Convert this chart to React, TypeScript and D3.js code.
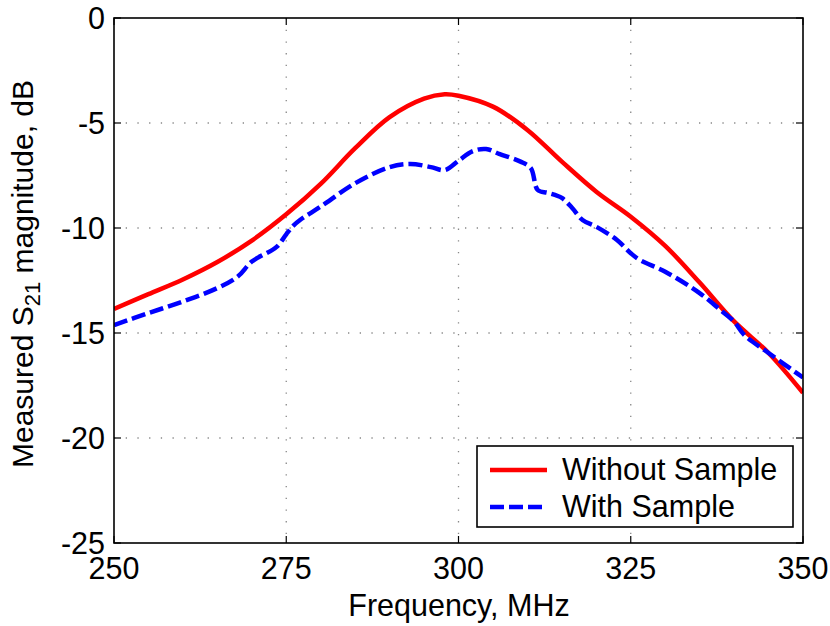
import React from 'react';
import * as d3 from 'd3';

const freqWithout = [250, 255, 260, 265, 270, 275, 280, 285, 290, 295, 298, 300, 305, 310, 315, 320, 325, 330, 335, 340, 345, 350];
const s21Without = [-13.85, -13.15, -12.45, -11.62, -10.6, -9.35, -7.9, -6.2, -4.72, -3.84, -3.63, -3.7, -4.22, -5.33, -6.84, -8.27, -9.46, -10.85, -12.6, -14.45, -15.95, -17.85];

const freqWith = [250, 255, 260, 265, 268, 270, 273.6, 275, 276, 277, 280, 285, 290, 293, 296, 298, 300, 302, 304, 306, 309, 310.5, 311.5, 313, 315, 316.5, 318, 320, 323, 325, 326.3, 330, 335, 338, 340, 341.5, 345, 350];
const s21With = [-14.62, -14.05, -13.5, -12.86, -12.3, -11.6, -10.9, -10.3, -9.9, -9.62, -8.98, -7.87, -7.1, -6.95, -7.1, -7.24, -6.8, -6.35, -6.24, -6.48, -6.84, -7.15, -8.19, -8.33, -8.57, -9.05, -9.62, -9.94, -10.57, -11.2, -11.52, -12.08, -13.1, -13.9, -14.46, -15.1, -15.95, -17.12];

const xTicks = [250, 275, 300, 325, 350];
const yTicks = [0, -5, -10, -15, -20, -25];
const seriesNames = ['Without Sample', 'With Sample'];

const W = 830;
const H = 626;
const margin = { left: 114, right: 27, top: 18, bottom: 83 };
const font = 'Arial, "Liberation Sans", sans-serif';
const fs = 30.5;

export default function App() {
  const x = d3.scaleLinear().domain([250, 350]).range([margin.left, W - margin.right]);
  const y = d3.scaleLinear().domain([-25, 0]).range([H - margin.bottom, margin.top]);
  const [x0, x1] = x.range();
  const [y0, y1] = y.range();

  const line = d3.line<[number, number]>()
    .x(d => x(d[0]))
    .y(d => y(d[1]))
    .curve(d3.curveCatmullRom.alpha(0.5));

  const redPath = line(freqWithout.map((f, i) => [f, s21Without[i]]));
  const bluePath = line(freqWith.map((f, i) => [f, s21With[i]]));

  const tickLen = 7;

  return (
    <svg width={W} height={H} style={{ position: 'absolute', left: 0, top: 0, background: '#fff' }} fontFamily={font}>
      <defs>
        <clipPath id="plot">
          <rect x={x0} y={y1} width={x1 - x0} height={y0 - y1} />
        </clipPath>
      </defs>

      {/* dotted grid */}
      {xTicks.slice(1, -1).map(t => (
        <line key={'gx' + t} x1={x(t)} x2={x(t)} y1={y1} y2={y0} stroke="#888" strokeWidth={1.3} strokeDasharray="1.3,10.4" />
      ))}
      {yTicks.slice(1, -1).map(t => (
        <line key={'gy' + t} x1={x0} x2={x1} y1={y(t)} y2={y(t)} stroke="#888" strokeWidth={1.3} strokeDasharray="1.3,10.4" />
      ))}

      {/* inward ticks on all four sides */}
      {xTicks.map(t => (
        <g key={'tx' + t} stroke="#000" strokeWidth={1.2}>
          <line x1={x(t)} x2={x(t)} y1={y0} y2={y0 - tickLen} />
          <line x1={x(t)} x2={x(t)} y1={y1} y2={y1 + tickLen} />
        </g>
      ))}
      {yTicks.map(t => (
        <g key={'ty' + t} stroke="#000" strokeWidth={1.2}>
          <line x1={x0} x2={x0 + tickLen} y1={y(t)} y2={y(t)} />
          <line x1={x1} x2={x1 - tickLen} y1={y(t)} y2={y(t)} />
        </g>
      ))}

      {/* data */}
      <g clipPath="url(#plot)" fill="none">
        <path d={redPath ?? ''} stroke="#ff0000" strokeWidth={4.5} strokeLinejoin="round" />
        <path d={bluePath ?? ''} stroke="#0000ff" strokeWidth={4.5} strokeDasharray="14,5" />
      </g>

      {/* axes box */}
      <rect x={x0} y={y1} width={x1 - x0} height={y0 - y1} fill="none" stroke="#000" strokeWidth={1.6} />

      {/* tick labels */}
      {xTicks.map(t => (
        <text key={'lx' + t} x={x(t)} y={579} textAnchor="middle" fontSize={fs}>{t}</text>
      ))}
      {yTicks.map(t => (
        <text key={'ly' + t} x={105} y={y(t)} dy="0.36em" textAnchor="end" fontSize={fs}>{t}</text>
      ))}

      {/* axis labels */}
      <text x={459} y={616} textAnchor="middle" fontSize={fs}>Frequency, MHz</text>
      <text transform={`translate(33,274) rotate(-90)`} textAnchor="middle" fontSize={30}>
        Measured S<tspan dy={7} fontSize={22}>21</tspan><tspan dy={-7}> magnitude, dB</tspan>
      </text>

      {/* legend */}
      <g>
        <rect x={477} y={446} width={316} height={81} fill="#fff" stroke="#000" strokeWidth={1.6} />
        <line x1={490} x2={547} y1={470} y2={470} stroke="#ff0000" strokeWidth={4.5} />
        <line x1={490} x2={547} y1={507} y2={507} stroke="#0000ff" strokeWidth={4.5} strokeDasharray="14,5" />
        <text x={562} y={480} fontSize={fs}>{seriesNames[0]}</text>
        <text x={562} y={517} fontSize={fs}>{seriesNames[1]}</text>
      </g>
    </svg>
  );
}
